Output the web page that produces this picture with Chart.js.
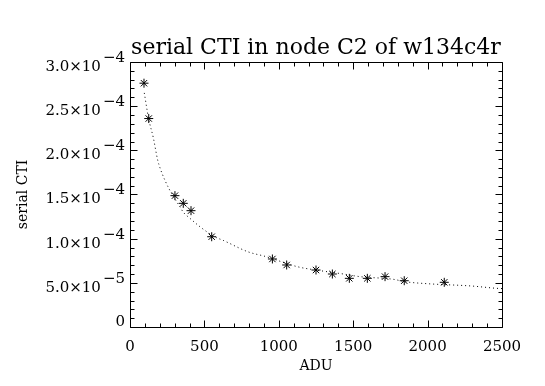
<!DOCTYPE html>
<html><head><meta charset="utf-8">
<script src="https://cdn.jsdelivr.net/npm/chart.js@4/dist/chart.umd.min.js"></script>
<style>html,body{margin:0;padding:0;background:#fff;} #wrap{width:545px;height:386px;}</style>
</head><body><div id="wrap"><canvas id="c" width="545" height="386"></canvas></div>
<script>
// measured points
const adu = [94, 126, 302, 358, 410, 549, 957, 1053, 1250, 1360, 1474, 1595, 1714, 1843, 2112];
const cti = [2.76e-4, 2.36e-4, 1.487e-4, 1.40e-4, 1.317e-4, 1.022e-4, 0.77e-4, 0.702e-4, 0.645e-4, 0.60e-4, 0.551e-4, 0.551e-4, 0.57e-4, 0.524e-4, 0.506e-4];
// dotted fit curve
const fitAdu = [96, 125, 157, 186, 202, 235, 280, 336, 358, 403, 482, 571, 627, 795, 907, 1131, 1250, 1434, 1546, 1770, 1848, 2000, 2296, 2464, 2500];
const fitCti = [2.65e-4, 2.36e-4, 2.14e-4, 1.89e-4, 1.80e-4, 1.66e-4, 1.51e-4, 1.36e-4, 1.30e-4, 1.23e-4, 1.12e-4, 1.02e-4, 0.98e-4, 0.85e-4, 0.80e-4, 0.68e-4, 0.645e-4, 0.60e-4, 0.57e-4, 0.54e-4, 0.513e-4, 0.49e-4, 0.464e-4, 0.438e-4, 0.435e-4];
// tick labels
const xTickLabels = ['0', '500', '1000', '1500', '2000', '2500'];
const yTickValues = [0, 5e-5, 1e-4, 1.5e-4, 2e-4, 2.5e-4, 3e-4];
const yTickMantissa = ['0', '5.0×10', '1.0×10', '1.5×10', '2.0×10', '2.5×10', '3.0×10'];
const yTickExponent = ['', '−5', '−4', '−4', '−4', '−4', '−4'];

const FONT = "'DejaVu Serif', serif";
Chart.defaults.color = '#000';
Chart.defaults.font.family = FONT;

const axesPlugin = {
  id: 'idlAxes',
  afterDraw(chart) {
    const ctx = chart.ctx, a = chart.chartArea;
    const xs = chart.scales.x, ys = chart.scales.y;
    const L = Math.round(a.left) + 0.5, R = Math.round(a.right) + 0.5;
    const T = Math.round(a.top) + 0.5, B = Math.round(a.bottom) + 0.5;
    ctx.save();
    ctx.strokeStyle = '#000';
    ctx.lineWidth = 1;
    ctx.beginPath();
    ctx.rect(L, T, R - L, B - T);
    for (let v = xs.min; v <= xs.max + 1e-9; v += 100) {
      const px = Math.round(xs.getPixelForValue(v)) + 0.5;
      const len = (Math.round(v) % 500 === 0) ? 7 : 4;
      ctx.moveTo(px, B); ctx.lineTo(px, B - len);
      ctx.moveTo(px, T); ctx.lineTo(px, T + len);
    }
    for (let i = 0; i <= 30; i++) {
      const v = i * 1e-5;
      const py = Math.round(ys.getPixelForValue(v)) + 0.5;
      const len = (i % 5 === 0) ? 7 : 4;
      ctx.moveTo(L, py); ctx.lineTo(L + len, py);
      ctx.moveTo(R, py); ctx.lineTo(R - len, py);
    }
    ctx.stroke();
    ctx.fillStyle = '#000';
    ctx.font = '15px ' + FONT;
    ctx.textBaseline = 'middle';
    ctx.textAlign = 'left';
    const right = a.left - 5;
    yTickValues.forEach((v, i) => {
      const py = ys.getPixelForValue(v);
      const ex = yTickExponent[i], m = yTickMantissa[i];
      if (!ex) {
        const w = ctx.measureText(m).width;
        ctx.fillText(m, right - w, py - 5);
        return;
      }
      const ew = ctx.measureText(ex).width;
      const mw = ctx.measureText(m).width;
      ctx.fillText(ex, right - ew, py - 4);
      ctx.fillText(m, right - ew - 2 - mw, py + 5);
    });
    ctx.restore();
  }
};

new Chart(document.getElementById('c'), {
  type: 'scatter',
  data: {
    datasets: [
      {
        label: 'fit',
        data: fitAdu.map((x, i) => ({x, y: fitCti[i]})),
        showLine: true,
        borderColor: '#000',
        borderWidth: 1,
        borderDash: [1, 3],
        pointRadius: 0,
        cubicInterpolationMode: 'monotone',
        fill: false
      },
      {
        label: 'serial CTI',
        data: adu.map((x, i) => ({x, y: cti[i]})),
        showLine: false,
        pointStyle: 'star',
        pointRadius: 4.5,
        borderColor: '#000',
        backgroundColor: '#000',
        borderWidth: 1
      }
    ]
  },
  options: {
    responsive: false,
    animation: false,
    devicePixelRatio: 1,
    layout: { padding: { left: 0, right: 43, top: 0, bottom: 0 } },
    plugins: {
      legend: { display: false },
      tooltip: { enabled: false },
      title: {
        display: true,
        text: 'serial CTI in node C2 of w134c4r',
        fullSize: false,
        font: { size: 22, weight: 'normal', family: FONT, lineHeight: 1 },
        padding: { top: 37, bottom: 3 },
        color: '#000'
      }
    },
    scales: {
      x: {
        type: 'linear',
        min: 0, max: 2500,
        afterFit(s) { s.height = 59; },
        grid: { display: false, drawTicks: false },
        border: { display: false },
        ticks: {
          stepSize: 500,
          padding: 11,
          maxRotation: 0,
          font: { size: 15, family: FONT },
          color: '#000',
          callback: (v) => xTickLabels[Math.round(v / 500)] ?? ''
        },
        title: {
          display: true,
          text: 'ADU',
          font: { size: 14, family: FONT, lineHeight: 1.2 },
          padding: { top: 0, bottom: 11 },
          color: '#000'
        }
      },
      y: {
        type: 'linear',
        min: 0, max: 3e-4,
        afterFit(s) { s.width = 130; },
        grid: { display: false, drawTicks: false },
        border: { display: false },
        ticks: { display: false, stepSize: 5e-5 },
        title: {
          display: true,
          text: 'serial CTI',
          font: { size: 14, family: FONT, lineHeight: 1.2 },
          padding: { top: 15, bottom: 0 },
          color: '#000'
        }
      }
    }
  },
  plugins: [axesPlugin]
});
</script>
</body></html>
